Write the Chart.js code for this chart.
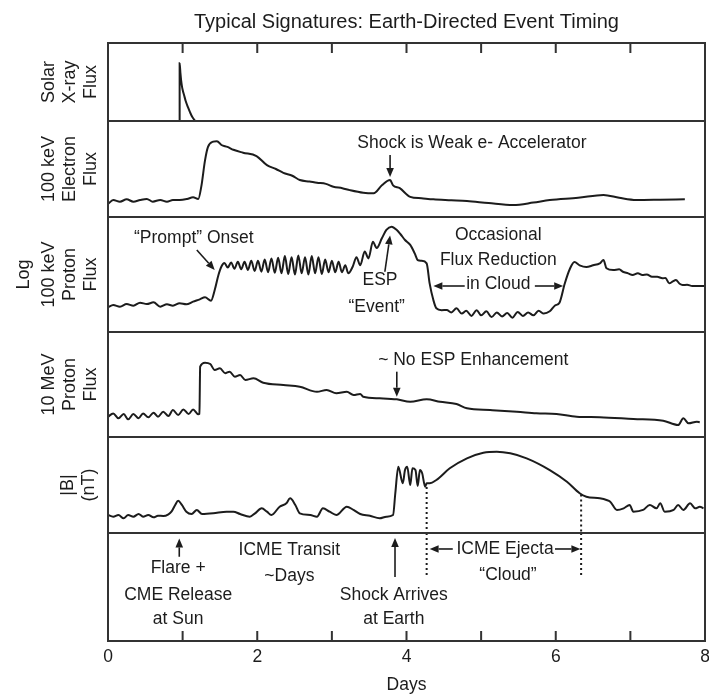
<!DOCTYPE html>
<html>
<head>
<meta charset="utf-8">
<script src="https://cdn.jsdelivr.net/npm/chart.js@4.4.1/dist/chart.umd.min.js"></script>
<style>
  html, body { margin: 0; padding: 0; background: #fff; }
  #wrap { position: relative; width: 709px; height: 694px; }
</style>
</head>
<body>
<div id="wrap"><canvas id="chart"></canvas></div>
<script>
// Series values (x in days, y in % of each panel's height)
const xrayDays = [0.96, 0.96, 0.97, 0.98, 0.99, 1.00, 1.02, 1.04, 1.07, 1.10, 1.13, 1.17];
const xrayFlux = [0, 74, 62, 52, 45, 40, 33, 26, 18, 11, 5, 0];

const elecDays = [0, 0.07, 0.16, 0.25, 0.34, 0.43, 0.52, 0.60, 0.70, 0.79, 0.87, 0.96, 1.06, 1.14, 1.21,
  1.25, 1.30, 1.34, 1.41, 1.46, 1.52, 1.60, 1.68, 1.81, 1.99, 2.13, 2.25, 2.35, 2.47, 2.57, 2.70, 2.80,
  2.92, 3.02, 3.14, 3.24, 3.42, 3.56, 3.67, 3.78, 3.82, 3.91, 4.05, 4.20, 4.36, 4.60, 4.81, 5.10, 5.43,
  5.70, 5.92, 6.30, 6.64, 6.85, 7.08, 7.40, 7.73];
const elecFlux = [13.5, 17.7, 16, 18.4, 16, 17.7, 18.8, 16, 17.7, 16, 17.7, 17.7, 18.8, 20.5, 18.8,
  31.6, 59, 73, 78.5, 79, 75, 73, 70, 67, 63.5, 54, 50, 46, 43, 38.5, 37, 35.7,
  34.5, 31.6, 30, 28, 25.3, 24.7, 33, 38.5, 33, 30, 21, 19.5, 18.4, 17.5, 16.7, 14.5, 12.5,
  15, 17.7, 20, 23, 20, 17.7, 18, 18.4];

const protDays = [0, 0.07, 0.16, 0.25, 0.34, 0.43, 0.52, 0.61, 0.70, 0.79, 0.87, 0.96, 1.05, 1.14, 1.23,
  1.30, 1.38, 1.43, 1.48, 1.52, 1.56, 1.605, 1.65, 1.695, 1.74, 1.785, 1.83, 1.875, 1.92, 1.965, 2.01,
  2.055, 2.10, 2.145, 2.19, 2.235, 2.28, 2.325, 2.37, 2.415, 2.46, 2.505, 2.55, 2.595, 2.64, 2.685, 2.73,
  2.775, 2.82, 2.865, 2.91, 2.955, 3.00, 3.045, 3.09, 3.135, 3.18, 3.22, 3.28, 3.33, 3.38, 3.44, 3.49,
  3.55, 3.60, 3.67, 3.73, 3.80, 3.87, 3.92, 3.98, 4.05, 4.11, 4.15, 4.20, 4.27, 4.31, 4.36, 4.40, 4.47,
  4.54, 4.60, 4.67, 4.74, 4.80, 4.87, 4.94, 5.00, 5.07, 5.14, 5.21, 5.28, 5.35, 5.42, 5.49, 5.56, 5.63,
  5.70, 5.77, 5.84, 5.92, 5.99, 6.05, 6.12, 6.19, 6.25, 6.32, 6.41, 6.50, 6.59, 6.64, 6.68, 6.77, 6.85,
  6.90, 6.97, 7.03, 7.10, 7.16, 7.22, 7.29, 7.36, 7.43, 7.47, 7.52, 7.57, 7.61, 7.66, 7.70, 7.76, 7.83,
  7.92, 8.0];
const protFlux = [21.5, 23.5, 22, 24.3, 22.9, 25.5, 24.3, 25.8, 22, 24.1, 22.9, 25, 24.1, 26.4, 28.4,
  30.2, 27.2, 36.5, 49.6, 57, 60, 56, 60.5, 55, 61, 54.5, 61, 54, 62, 53, 62,
  52.5, 63, 52, 64, 51.5, 64.5, 51, 66, 50.5, 65, 50, 66.5, 51, 65, 50, 66,
  51, 65, 50.5, 63, 52, 62, 52, 61, 52, 58, 51, 57, 65, 58, 70, 64,
  78.5, 73, 81.5, 88.7, 91.6, 88.7, 85, 80, 75.7, 68.4, 62.6, 62, 59.7, 42.3, 27.8, 20.6, 19,
  19.1, 17, 20.6, 16, 18.5, 14, 19, 14.5, 18, 13, 17, 13.5, 16.5, 12.5, 17.5, 14, 17,
  14.5, 18.5, 16, 18, 23, 25.5, 42, 55, 60.8, 58, 56.5, 58, 59.7, 62.6, 55.4, 53.9, 54.5,
  52.4, 51, 49.6, 51, 49.6, 50, 48.1, 48, 46.7, 47, 42.3, 44, 45.2, 42, 40.9, 41, 40,
  40, 40];

const mevDays = [0, 0.07, 0.14, 0.21, 0.27, 0.34, 0.41, 0.47, 0.54, 0.61, 0.67, 0.74, 0.81, 0.87, 0.94,
  1.01, 1.08, 1.14, 1.21, 1.225, 1.235, 1.30, 1.37, 1.43, 1.50, 1.57, 1.63, 1.70, 1.77, 1.84, 1.95,
  2.08, 2.35, 2.57, 2.80, 2.93, 3.06, 3.20, 3.29, 3.38, 3.42, 3.64, 3.87, 4.05, 4.27, 4.45, 4.67, 4.81,
  5.12, 5.48, 5.74, 6.01, 6.28, 6.59, 7.04, 7.44, 7.64, 7.71, 7.78, 7.89, 7.93];
const mevFlux = [19.3, 22.5, 17.8, 21.9, 16.8, 21.9, 17.8, 22.5, 18.7, 23.2, 19.3, 24.1, 20, 25.7, 21,
  26.3, 21.9, 26.3, 21.6, 22, 67, 70.8, 69.5, 63.8, 65.4, 60.7, 62.2, 57.4, 59, 54.3, 55.9,
  51.7, 49.5, 47.9, 43.1, 44.8, 41.6, 43.1, 40, 41, 38.4, 36.9, 35.9, 33.6, 35.9, 33.6, 31.4, 27.3,
  25.7, 24.1, 22.6, 21.9, 19.3, 18.8, 17.1, 15.5, 11.4, 17.8, 13, 14.6, 14];

const magDays = [0, 0.07, 0.14, 0.21, 0.27, 0.34, 0.41, 0.47, 0.54, 0.61, 0.67, 0.74, 0.81, 0.85, 0.90,
  0.94, 0.99, 1.05, 1.12, 1.19, 1.26, 1.41, 1.59, 1.68, 1.77, 1.90, 1.97, 2.06, 2.13, 2.19, 2.30, 2.39,
  2.44, 2.51, 2.57, 2.71, 2.80, 2.88, 2.97, 3.06, 3.20, 3.29, 3.38, 3.51, 3.64, 3.73, 3.82, 3.85, 3.89,
  3.95, 3.98, 4.01, 4.05, 4.08, 4.12, 4.15, 4.18, 4.21, 4.25, 4.27, 4.31, 4.40, 4.58, 4.81, 5.03, 5.21,
  5.39, 5.61, 5.92, 6.15, 6.32, 6.41, 6.59, 6.68, 6.73, 6.82, 6.91, 6.99, 7.04, 7.17, 7.26, 7.35, 7.40,
  7.46, 7.58, 7.64, 7.71, 7.80, 7.87, 7.93, 7.98];
const magField = [18.75, 17, 18.75, 15.3, 18.75, 17, 19.8, 17, 18.75, 16.3, 18, 17.7, 19.5, 22.2, 29.2,
  33.6, 29.2, 22.2, 19.8, 24, 19.8, 20.5, 22.2, 22.2, 19.8, 17, 20.5, 25.7, 22.2, 18.75, 27.4, 30.9,
  36.1, 29.2, 20.5, 18.75, 17, 25.7, 22.2, 18.75, 27.4, 24, 19.8, 18, 15.3, 17, 18.75, 41.4, 69,
  51.8, 65.6, 69, 50, 67.4, 65.6, 49, 65.6, 62.2, 48.2, 51.8, 51.8, 55.2, 67.4, 77.8, 83.6, 84.7,
  83, 77.8, 65.6, 53.4, 41.4, 37.8, 36.1, 34.4, 32.6, 24, 25.7, 29.2, 22.2, 24, 29.2, 25.7, 30.9,
  22.2, 24, 29.2, 24, 30.9, 25.7, 27.4, 25.7];

// Cloud boundaries (dotted lines), days
const cloudStart = 4.27;
const cloudEnd = 6.34;

// Axis labels
const xTicks = [0, 2, 4, 6, 8];
const panelLabels = {
  xray: ['Solar', 'X-ray', 'Flux'],
  elec: ['100 keV', 'Electron', 'Flux'],
  prot: ['100 keV', 'Proton', 'Flux'],
  mev: ['10 MeV', 'Proton', 'Flux'],
  mag: ['|B|', '(nT)'],
  note: []
};

// Text notes: panel, day, panel %, text, alignment
const notes = [
  ['elec', 3.34, 77, 'Shock is Weak e- Accelerator', 'left'],
  ['prot', 1.15, 81.7, '\u201CPrompt\u201D Onset', 'center'],
  ['prot', 3.645, 45.2, 'ESP', 'center'],
  ['prot', 3.60, 22, '\u201CEvent\u201D', 'center'],
  ['prot', 5.23, 84.3, 'Occasional', 'center'],
  ['prot', 5.23, 62.6, 'Flux Reduction', 'center'],
  ['prot', 5.23, 41.3, 'in Cloud', 'center'],
  ['mev', 3.62, 73.3, '~ No ESP Enhancement', 'left'],
  ['note', 0.94, 67.6, 'Flare +', 'center'],
  ['note', 0.94, 42.6, 'CME Release', 'center'],
  ['note', 0.94, 20.4, 'at Sun', 'center'],
  ['note', 2.43, 84.3, 'ICME Transit', 'center'],
  ['note', 2.43, 60.2, '~Days', 'center'],
  ['note', 3.83, 42.6, 'Shock Arrives', 'center'],
  ['note', 3.83, 20.4, 'at Earth', 'center'],
  ['note', 5.32, 85.2, 'ICME Ejecta', 'center'],
  ['note', 5.36, 61.1, '\u201CCloud\u201D', 'center']
];

// Arrows: panel, from (day, %), to (day, %) - head at the "to" end
const arrows = [
  ['elec', 3.78, 64.6, 3.78, 41.7],
  ['prot', 1.19, 71.3, 1.43, 53.9],
  ['prot', 3.71, 52.4, 3.78, 84],
  ['prot', 4.78, 40, 4.36, 40],
  ['prot', 5.72, 40, 6.10, 40],
  ['mev', 3.87, 62.2, 3.87, 38.4],
  ['note', 0.955, 78, 0.955, 95],
  ['note', 3.846, 59.3, 3.846, 95.4],
  ['note', 4.62, 85.2, 4.31, 85.2],
  ['note', 5.99, 85.2, 6.33, 85.2]
];

const INK = '#1c1c1c';
const FRAME = '#333333';
const FAMILY = '"Liberation Sans", Arial, Helvetica, sans-serif';
const panelIds = ['xray', 'elec', 'prot', 'mev', 'mag', 'note'];

function pts(days, vals) {
  return days.map((d, i) => ({ x: d, y: vals[i] }));
}

function series(id, days, vals, extra) {
  return Object.assign({
    data: pts(days, vals),
    yAxisID: id,
    borderColor: INK,
    borderWidth: 2,
    pointRadius: 0,
    cubicInterpolationMode: 'monotone',
    fill: false
  }, extra || {});
}

const dotted = { borderDash: [2, 3], cubicInterpolationMode: 'default', tension: 0 };
const datasets = [
  series('xray', xrayDays, xrayFlux),
  series('elec', elecDays, elecFlux),
  series('prot', protDays, protFlux),
  series('mev', mevDays, mevFlux),
  series('mag', magDays, magField),
  series('mag', [cloudStart, cloudStart], [48, 0], dotted),
  series('mag', [cloudEnd, cloudEnd], [40, 0], dotted),
  series('note', [cloudStart, cloudStart], [100, 59.3], dotted),
  series('note', [cloudEnd, cloudEnd], [100, 59.3], dotted)
];

function panelAxis(weight, lines, pad) {
  return {
    type: 'linear',
    position: 'left',
    stack: 'panels',
    stackWeight: weight,
    min: 0,
    max: 100,
    grid: { display: false, drawTicks: false },
    border: { display: false },
    ticks: { display: false },
    title: {
      display: lines.length > 0,
      text: lines,
      color: INK,
      font: { family: FAMILY, size: 18, lineHeight: 1.17 },
      padding: { top: pad, bottom: 0 }
    },
    afterFit(s) {
      s.width = 108;
      s.paddingTop = 0;
      s.paddingBottom = 0;
    }
  };
}

function drawArrow(ctx, x1, y1, x2, y2) {
  const ang = Math.atan2(y2 - y1, x2 - x1);
  const head = 9, half = 3.8;
  const bx = x2 - head * Math.cos(ang), by = y2 - head * Math.sin(ang);
  ctx.beginPath();
  ctx.moveTo(x1, y1);
  ctx.lineTo(bx, by);
  ctx.stroke();
  ctx.beginPath();
  ctx.moveTo(x2, y2);
  ctx.lineTo(bx + half * Math.sin(ang), by - half * Math.cos(ang));
  ctx.lineTo(bx - half * Math.sin(ang), by + half * Math.cos(ang));
  ctx.closePath();
  ctx.fill();
}

const panelFrame = {
  id: 'panelFrame',
  afterDatasetsDraw(chart) {
    const { ctx, chartArea, scales } = chart;
    const x = scales.x;
    ctx.save();
    ctx.strokeStyle = FRAME;
    ctx.lineWidth = 2;
    panelIds.forEach(id => {
      const s = scales[id];
      ctx.strokeRect(chartArea.left, s.top, chartArea.right - chartArea.left, s.bottom - s.top);
    });
    // inward day ticks, top and bottom
    ctx.beginPath();
    for (let d = 1; d < 8; d++) {
      const px = x.getPixelForValue(d);
      ctx.moveTo(px, chartArea.top);
      ctx.lineTo(px, chartArea.top + 10);
      ctx.moveTo(px, chartArea.bottom);
      ctx.lineTo(px, chartArea.bottom - 10);
    }
    ctx.stroke();

    // arrows
    ctx.strokeStyle = INK;
    ctx.fillStyle = INK;
    ctx.lineWidth = 1.6;
    arrows.forEach(([id, d1, v1, d2, v2]) => {
      const s = scales[id];
      drawArrow(ctx, x.getPixelForValue(d1), s.getPixelForValue(v1),
        x.getPixelForValue(d2), s.getPixelForValue(v2));
    });

    // notes
    ctx.font = '17.5px ' + FAMILY;
    ctx.textBaseline = 'middle';
    notes.forEach(([id, d, v, text, align]) => {
      ctx.textAlign = align;
      ctx.fillText(text, x.getPixelForValue(d), scales[id].getPixelForValue(v));
    });

    // shared "Log" label beside the panel titles
    const p = scales.prot;
    ctx.font = '18px ' + FAMILY;
    ctx.textAlign = 'center';
    ctx.translate(24, (p.top + p.bottom) / 2);
    ctx.rotate(-Math.PI / 2);
    ctx.fillText('Log', 0, 0);
    ctx.restore();
  }
};

// Stacked y axes are listed bottom panel first
new Chart(document.getElementById('chart'), {
  type: 'line',
  data: { datasets },
  options: {
    responsive: true,
    maintainAspectRatio: false,
    animation: false,
    devicePixelRatio: 1,
    events: [],
    layout: { autoPadding: false, padding: { left: 0, right: 4, top: 0, bottom: 0 } },
    plugins: {
      legend: { display: false },
      tooltip: { enabled: false },
      title: {
        display: true,
        text: 'Typical Signatures: Earth-Directed Event Timing',
        fullSize: false,
        color: INK,
        font: { family: FAMILY, size: 20, weight: 'normal' },
        padding: { top: 10, bottom: 9 }
      }
    },
    scales: {
      x: {
        type: 'linear',
        min: 0,
        max: 8,
        afterBuildTicks(s) { s.ticks = xTicks.map(v => ({ value: v })); },
        ticks: { color: INK, font: { family: FAMILY, size: 17.5 }, padding: 6, maxRotation: 0 },
        grid: { display: false, drawTicks: false },
        border: { display: false },
        title: {
          display: true,
          text: 'Days',
          color: INK,
          font: { family: FAMILY, size: 17.5, lineHeight: 1 },
          padding: { top: 0, bottom: 0 }
        },
        afterFit(s) {
          s.height = 53;
          s.paddingLeft = 0;
          s.paddingRight = 0;
        }
      },
      note: panelAxis(108, panelLabels.note, 0),
      mag: panelAxis(96, panelLabels.mag, 57.5),
      mev: panelAxis(105, panelLabels.mev, 38.5),
      prot: panelAxis(115, panelLabels.prot, 38.5),
      elec: panelAxis(96, panelLabels.elec, 38.5),
      xray: panelAxis(78, panelLabels.xray, 38.5)
    }
  },
  plugins: [panelFrame]
});
</script>
</body>
</html>
